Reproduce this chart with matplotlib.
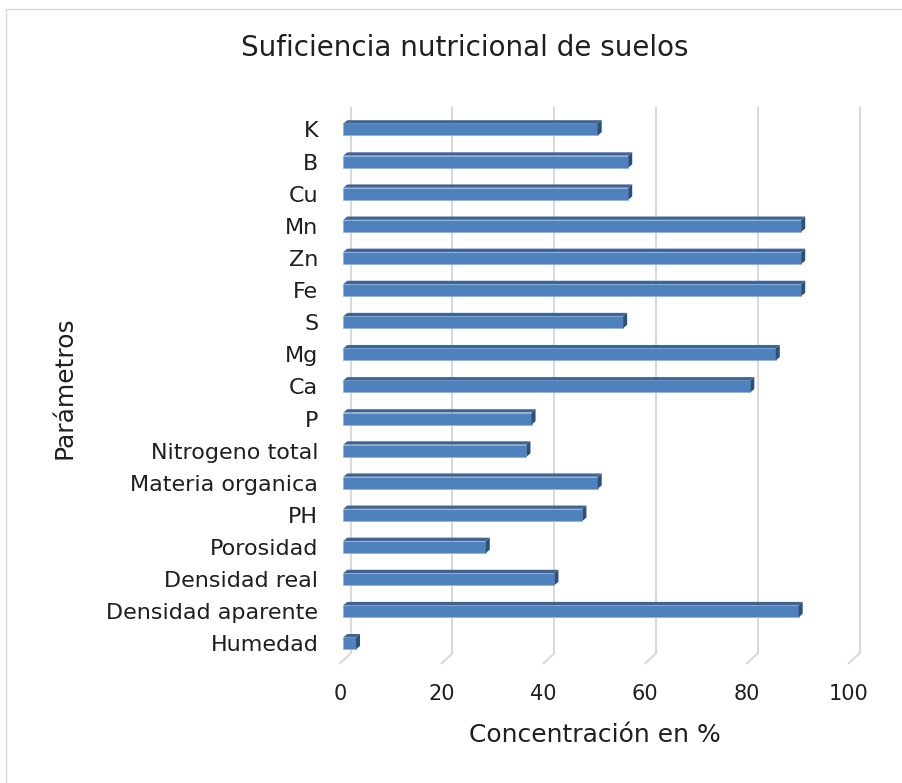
import matplotlib
matplotlib.use("Agg")
import matplotlib.pyplot as plt
from matplotlib.patches import Polygon, Rectangle
from matplotlib.transforms import ScaledTranslation
import numpy as np

categories = ["Humedad", "Densidad aparente", "Densidad real", "Porosidad", "PH",
              "Materia organica", "Nitrogeno total", "P", "Ca", "Mg", "S",
              "Fe", "Zn", "Mn", "Cu", "B", "K"]
values = [2.5, 89.5, 41.5, 28, 47, 50, 36, 37, 80, 85, 55, 90, 90, 90, 56, 56, 50]
x_ticks = [0, 20, 40, 60, 80, 100]
title = "Suficiencia nutricional de suelos"
x_label = "Concentración en %"
y_label = "Parámetros"

FONT = ["DejaVu Sans"]
TXT = "#1f1f1f"
W, H = 903, 783
fig = plt.figure(figsize=(W / 100, H / 100), dpi=100)

# chart border
fig.patches.append(Rectangle((6.5 / W, -0.01), 1.2, 1 - 8.5 / H + 0.01,
                             transform=fig.transFigure, fill=False,
                             edgecolor="#d9d9d9", linewidth=1.0))

ax_l, ax_r, ax_b, ax_t = 343.3, 852.1, 663.3, 106.7
ax = fig.add_axes([ax_l / W, 1 - ax_b / H, (ax_r - ax_l) / W, (ax_b - ax_t) / H])
ax.set_xlim(0, 100)
ylo, yhi = -0.623, 16.71
ax.set_ylim(ylo, yhi)
for s in ax.spines.values():
    s.set_visible(False)

# pixel -> data conversions (style only)
ppx = (ax_r - ax_l) / 100.0
ppy = (ax_b - ax_t) / (yhi - ylo)

# back-wall gridlines with floor diagonals
back_dx, back_dy = 7.4, 10.0
front_dx = -3.3
grid_c = "#d9d9d9"
for t in x_ticks:
    xb = t + back_dx / ppx
    ax.plot([xb, xb], [ylo + back_dy / ppy, yhi], color=grid_c, lw=1.5,
            solid_capstyle="butt", zorder=0, clip_on=False)
    ax.plot([t + front_dx / ppx, xb], [ylo, ylo + back_dy / ppy], color=grid_c,
            lw=1.5, zorder=0, clip_on=False)

# bars with 3D look
ypos = np.arange(len(categories))
h = 12.0 / ppy
ddx, ddy = 4.0 / ppx, 3.3 / ppy
ax.barh(ypos, values, height=h, color="#4f81bd", edgecolor="#8fb0d8",
        linewidth=0.5, zorder=3)
for y, v in zip(ypos, values):
    top = y + h / 2
    bot = y - h / 2
    ax.add_patch(Polygon([(0, top), (v, top), (v + ddx, top + ddy), (ddx, top + ddy)],
                         closed=True, facecolor="#3d6495", edgecolor="none", zorder=3))
    ax.add_patch(Polygon([(v, bot), (v, top), (v + ddx, top + ddy), (v + ddx, bot + ddy)],
                         closed=True, facecolor="#2e4f7a", edgecolor="none", zorder=3))

ax.set_yticks(ypos)
ax.set_yticklabels(categories, fontsize=16, family=FONT, color=TXT)
ax.tick_params(axis="y", length=0, pad=18)
ax.set_xticks(x_ticks)
ax.set_xticklabels([str(t) for t in x_ticks], fontsize=15, family=FONT, color=TXT)
ax.tick_params(axis="x", length=0, pad=15)
off = ScaledTranslation(front_dx / 100, 0, fig.dpi_scale_trans)
for lab in ax.get_xticklabels():
    lab.set_transform(lab.get_transform() + off)

fig.text(465 / W, 1 - 48 / H, title, ha="center", va="center", fontsize=20,
         family=FONT, color=TXT)
fig.text(595 / W, 1 - 735 / H, x_label, ha="center", va="center", fontsize=18,
         family=FONT, color=TXT)
fig.text(65 / W, 1 - 388 / H, y_label, ha="center", va="center", rotation=90,
         fontsize=18, family=FONT, color=TXT)

fig.savefig("out.png", dpi=100)
